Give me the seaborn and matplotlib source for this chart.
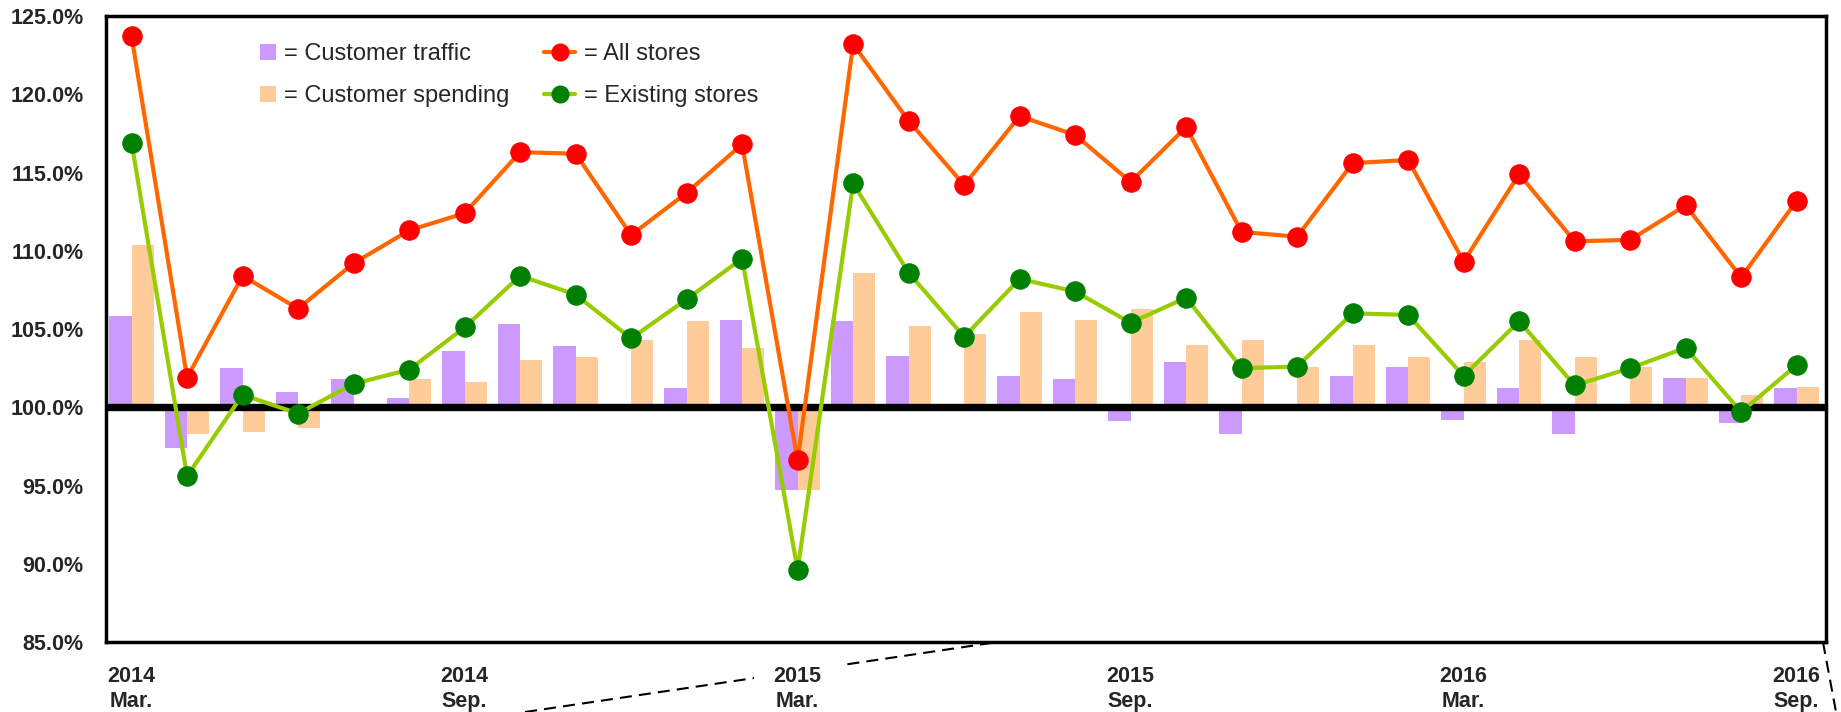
import numpy as np
import pandas as pd
import matplotlib
matplotlib.use("Agg")
import matplotlib.pyplot as plt
import matplotlib.patches as mpatches
from matplotlib.lines import Line2D
from matplotlib.legend_handler import HandlerPatch
import seaborn as sns

# Monthly year-over-year ratios (%), March 2014 – September 2016
months = pd.period_range("2014-03", "2016-09", freq="M")

customer_traffic = [105.8, 97.4, 102.5, 101.0, 101.8, 100.6, 103.6, 105.3, 103.9, 100.0,
                    101.2, 105.6, 94.7, 105.5, 103.3, 100.0, 102.0, 101.8, 99.1, 102.9,
                    98.3, 100.0, 102.0, 102.6, 99.2, 101.2, 98.3, 100.0, 101.9, 99.0, 101.2]
customer_spending = [110.4, 98.3, 98.4, 98.7, 100.0, 101.8, 101.6, 103.0, 103.2, 104.3,
                     105.5, 103.8, 94.7, 108.6, 105.2, 104.7, 106.1, 105.6, 106.3, 104.0,
                     104.3, 102.6, 104.0, 103.2, 102.9, 104.3, 103.2, 102.6, 101.9, 100.8, 101.3]
all_stores = [123.7, 101.9, 108.4, 106.3, 109.2, 111.3, 112.4, 116.3, 116.2, 111.0,
              113.7, 116.8, 96.6, 123.2, 118.3, 114.2, 118.6, 117.4, 114.4, 117.9,
              111.2, 110.9, 115.6, 115.8, 109.3, 114.9, 110.6, 110.7, 112.9, 108.3, 113.2]
existing_stores = [116.9, 95.6, 100.8, 99.6, 101.5, 102.4, 105.1, 108.4, 107.2, 104.4,
                   106.9, 109.5, 89.6, 114.3, 108.6, 104.5, 108.2, 107.4, 105.4, 107.0,
                   102.5, 102.6, 106.0, 105.9, 102.0, 105.5, 101.4, 102.5, 103.8, 99.7, 102.7]

bar_labels = ["= Customer traffic", "= Customer spending"]
line_labels = ["= All stores", "= Existing stores"]

PURPLE = "#CC99FF"
PEACH = "#FFCC99"
ORANGE = "#FF6600"
RED = "#FF0000"
LIME = "#99CC00"
GREEN = "#008000"

sns.set_style("white")
plt.rcParams["font.family"] = ["Liberation Sans", "DejaVu Sans"]

pos = np.arange(len(months))
bars = pd.DataFrame({
    "month": np.concatenate([pos, pos]),
    "series": [bar_labels[0]] * len(pos) + [bar_labels[1]] * len(pos),
    "change": np.concatenate([np.array(customer_traffic), np.array(customer_spending)]) - 100.0,
})
lines = pd.DataFrame({"month": pos, "all": all_stores, "existing": existing_stores})

fig = plt.figure(figsize=(18.41, 7.12), dpi=100)
ax = fig.add_axes([0.0576, 0.0983, 0.9343, 0.8792])

# bars hang from the 100% baseline
sns.barplot(data=bars, x="month", y="change", hue="series", hue_order=bar_labels,
            palette=[PURPLE, PEACH], bottom=100, saturation=1, errorbar=None,
            width=0.8, linewidth=0, legend=False, ax=ax, zorder=1)

ax.axhline(100, color="black", linewidth=5.3, zorder=2)

sns.lineplot(data=lines, x="month", y="all", color=ORANGE, linewidth=3.0, marker="o",
             markersize=14, markerfacecolor=RED, markeredgecolor=RED, ax=ax, zorder=3)
sns.lineplot(data=lines, x="month", y="existing", color=LIME, linewidth=3.0, marker="o",
             markersize=14, markerfacecolor=GREEN, markeredgecolor=GREEN, ax=ax, zorder=4)

ax.set_xlim(-0.46, 30.53)
ax.set_ylim(85, 125)
ax.set_xlabel("")
ax.set_ylabel("")

yt = np.arange(85, 126, 5)
ax.set_yticks(yt)
ax.set_yticklabels([f"{v:.1f}%" for v in yt], fontsize=15.5, fontweight="bold")

tick_idx = [i for i, m in enumerate(months) if m.month in (3, 9)]
ax.set_xticks(tick_idx)
ax.set_xticklabels([f"{months[i].year}\n{months[i].strftime('%b')}." for i in tick_idx],
                   fontsize=15.5, fontweight="bold", linespacing=1.3)
for t in ax.get_xticklabels():
    t.set_bbox(dict(facecolor="white", edgecolor="none", pad=14))

ax.tick_params(axis="y", length=0, pad=16)
ax.tick_params(axis="x", length=0, pad=17)
for s in ax.spines.values():
    s.set_visible(True)
    s.set_color("black")
    s.set_linewidth(2.5)
ax.grid(False)


class SquareHandler(HandlerPatch):
    def create_artists(self, legend, orig_handle, xdescent, ydescent, width, height,
                       fontsize, trans):
        s = height * 0.95
        p = mpatches.Rectangle((-xdescent + width - s, -ydescent + (height - s) / 2), s, s,
                               facecolor=orig_handle.get_facecolor(), edgecolor="none",
                               transform=trans)
        return [p]


handles = [
    mpatches.Patch(facecolor=PURPLE),
    mpatches.Patch(facecolor=PEACH),
    Line2D([], [], color=ORANGE, lw=3, marker="o", markersize=12,
           markerfacecolor=RED, markeredgecolor=RED),
    Line2D([], [], color=LIME, lw=3, marker="o", markersize=12,
           markerfacecolor=GREEN, markeredgecolor=GREEN),
]
ax.legend(handles, bar_labels + line_labels, ncol=2, loc="upper left",
          bbox_to_anchor=(0.0801, 0.957), frameon=False, fontsize=17,
          handlelength=1.35, handleheight=0.7, handletextpad=0.35,
          columnspacing=1.45, labelspacing=0.85, borderpad=0, borderaxespad=0,
          handler_map={mpatches.Patch: SquareHandler()})

# dashed callout leaders below the axis
dash = dict(color="black", linewidth=1.5, linestyle=(0, (5.8, 3.4)))
fig.add_artist(Line2D([0.2852, 0.5492], [0.0, 0.1011], transform=fig.transFigure,
                      zorder=-1, **dash))
fig.add_artist(Line2D([0.9902, 0.9973], [0.0983, 0.0], transform=fig.transFigure,
                      zorder=1, **dash))

fig.savefig("out.png", dpi=100)
